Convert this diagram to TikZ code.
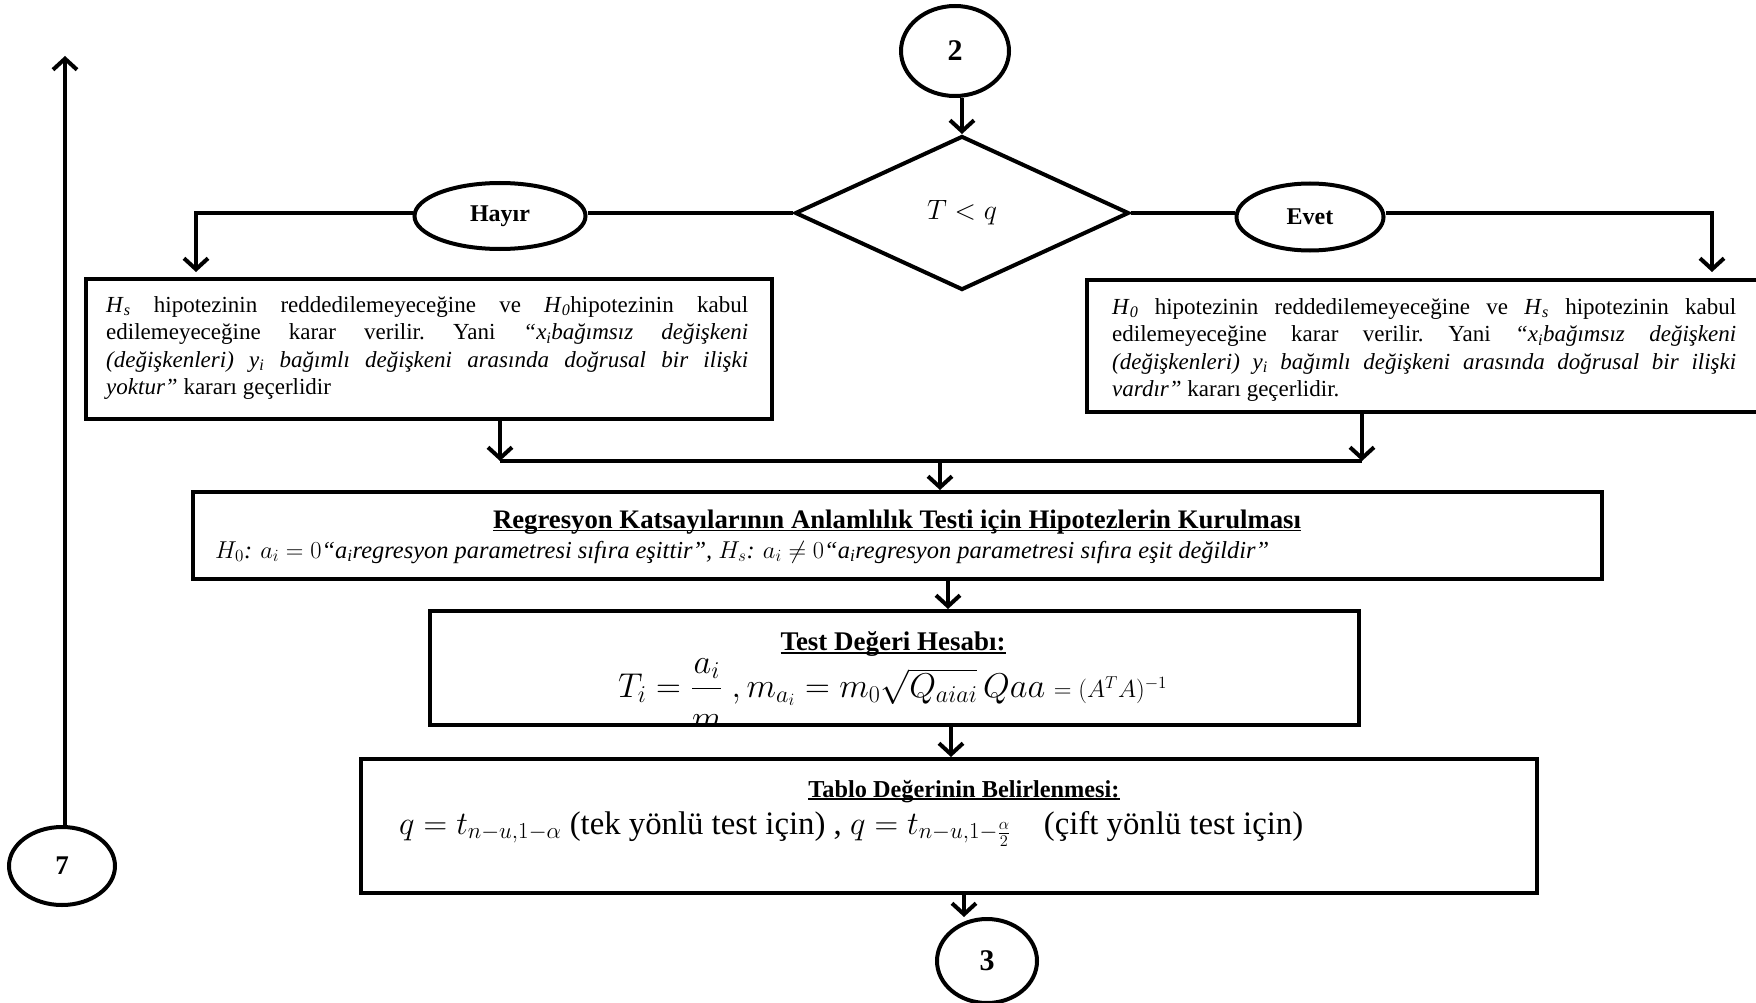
\RequirePackage{fix-cm}
\documentclass[tikz,border=0pt]{standalone}
\usepackage{fontspec}
\setmainfont{Liberation Serif}
\usepackage{amsmath}
\usetikzlibrary{shapes.geometric,arrows.meta,calc}

% underline drawn just below the baseline
\newcommand{\ulbar}[1]{\leavevmode\setbox0\hbox{#1}\rlap{\rule[-3pt]{\wd0}{1.6pt}}\box0}

\tikzset{
  flow/.style={line width=4pt},
  arr/.style={flow,-{Straight Barb[length=11pt,width=24pt]}},
  frame/.style={draw,rectangle,line width=4pt,inner sep=0pt},
  conn/.style={draw,ellipse,line width=4pt,inner sep=0pt,font=\fontsize{30}{30}\selectfont\bfseries},
  answer/.style={draw,ellipse,line width=4pt,inner sep=0pt,font=\fontsize{24}{24}\selectfont\bfseries},
  body/.style={inner sep=0pt,anchor=north west,align=justify,font=\fontsize{23}{27.6}\selectfont\frenchspacing},
  heading/.style={inner sep=0pt,anchor=base,font=\fontsize{23}{23}\selectfont\bfseries},
}

\begin{document}
\begin{tikzpicture}[x=1pt,y=-1pt]
\useasboundingbox (0,0) rectangle (1756,1003);
\fill[white] (0,0) rectangle (1756,1003);

% connectors and decision
\node[conn, minimum width=108pt, minimum height=90pt] (c2) at (955,51) {2};
\node[draw, diamond, line width=4pt, inner sep=0pt, minimum width=334pt, minimum height=154pt,
      font=\fontsize{28}{28}\selectfont] (dia) at (962,213) {$T < q$};
\node[answer, minimum width=171pt, minimum height=66pt] (hayir) at (500,216) {Hayır};
\node[answer, minimum width=147pt, minimum height=67pt] (evet) at (1310,217) {Evet};

% decision result boxes
\node[frame, minimum width=686pt, minimum height=140pt] (lbox) at (429,349) {};
\node[frame, minimum width=683pt, minimum height=132pt] (rbox) at (1428.5,346) {};

\node[body, text width=642pt] (ltext) at (106,296) {%
\textit{H}\textsubscript{\textit{s}} hipotezinin reddedilemeyeceğine ve \textit{H}\textsubscript{\textit{0}}hipotezinin kabul\linebreak
edilemeyeceğine karar verilir. Yani \textit{“x\textsubscript{i}bağımsız değişkeni\linebreak
(değişkenleri) y\textsubscript{i} bağımlı değişkeni arasında doğrusal bir ilişki\linebreak
yoktur”} kararı geçerlidir};

\node[body, text width=624pt] (rtext) at (1112,298) {%
\textit{H}\textsubscript{\textit{0}} hipotezinin reddedilemeyeceğine ve \textit{H}\textsubscript{\textit{s}} hipotezinin kabul\linebreak
edilemeyeceğine karar verilir. Yani \textit{“x\textsubscript{i}bağımsız değişkeni\linebreak
(değişkenleri) y\textsubscript{i} bağımlı değişkeni arasında doğrusal bir ilişki\linebreak
vardır”} kararı geçerlidir.};

% hypothesis box
\node[frame, minimum width=1409pt, minimum height=87pt] (reg) at (897.5,535.5) {};
\node[heading] (regtitle) at (897,528) {\resizebox{808pt}{!}{\ulbar{Regresyon Katsayılarının Anlamlılık Testi için Hipotezlerin Kurulması}}};
\node[inner sep=0pt, anchor=base west, font=\fontsize{20}{20}\selectfont\itshape] (regline) at (215,558)
  {\resizebox{1054pt}{!}{$H_0$: $a_i = 0$“a\textsubscript{i}regresyon parametresi sıfıra eşittir”, $H_s$: $a_i \neq 0$“a\textsubscript{i}regresyon parametresi sıfıra eşit değildir”}};

% test value box
\node[frame, minimum width=929pt, minimum height=114pt] (test) at (894.5,668) {};
\node[heading] (testtitle) at (893,650) {\resizebox{225pt}{!}{\ulbar{Test Değeri Hesabı:}}};
\begin{scope}
  \clip (432,613) rectangle (1357,723);
  \node[inner sep=0pt, anchor=base west, font=\fontsize{28}{28}\selectfont] (testformula) at (618,697)
    {\raisebox{0pt}[\height][0pt]{\resizebox{549pt}{!}{$T_i = \dfrac{a_i}{\raisebox{-7pt}{$m$}}\ , m_{a_i} = m_0\sqrt{Q_{aiai}}\,Qaa$ {\fontsize{20}{20}\selectfont$= (A^{T}A)^{-1}$}}}};
\end{scope}

% table value box
\node[frame, minimum width=1176pt, minimum height=134pt] (tablo) at (949,826) {};
\node[heading] (tablotitle) at (964,797) {\resizebox{311pt}{!}{\ulbar{Tablo Değerinin Belirlenmesi:}}};
\node[inner sep=0pt, anchor=base west, font=\fontsize{28}{28}\selectfont] (tabloformula) at (399,834)
  {\resizebox{904pt}{!}{$q = t_{n-u,1-\alpha}$ (tek yönlü test için) , $q = t_{n-u,1-\frac{\alpha}{2}}$\quad (çift yönlü test için)}};

\node[conn, minimum width=100pt, minimum height=84pt] (c3) at (987,961) {3};
\node[conn, minimum width=106pt, minimum height=78pt, font=\fontsize{27}{27}\selectfont\bfseries] (c7) at (62,866) {7};

% flow lines
\coordinate (lin) at (196,272);
\coordinate (rin) at (1712,272);
\coordinate (jl) at (500,461);
\coordinate (jr) at (1362,461);
\coordinate (jm) at (940,461);
\coordinate (top7) at (65,56);

\draw[arr] (c2.south -| dia.north) -- (dia.north);
\draw[flow] (dia.west) -- (dia.west -| hayir.east);
\draw[flow] (dia.east) -- (dia.east -| evet.west);
\draw[arr] (hayir.west |- dia.west) -| (lin);
\draw[arr] (evet.east |- dia.east) -| (rin);
\draw[arr] (lbox.south -| jl) -- (jl);
\draw[arr] (rbox.south -| jr) -- (jr);
\draw[flow] (jl) -- (jr);
\draw[arr] (jm) -- (jm |- reg.north);
\draw[arr] ([xshift=50.5pt]reg.south) -- ([xshift=53.5pt]test.north);
\draw[arr] ([xshift=56.5pt]test.south) -- ([xshift=2pt]tablo.north);
\draw[arr] ([xshift=15pt]tablo.south) -- ([xshift=15pt]tablo.south |- c3.north);
\draw[arr] (c7.north -| top7) -- (top7);
\end{tikzpicture}
\end{document}
